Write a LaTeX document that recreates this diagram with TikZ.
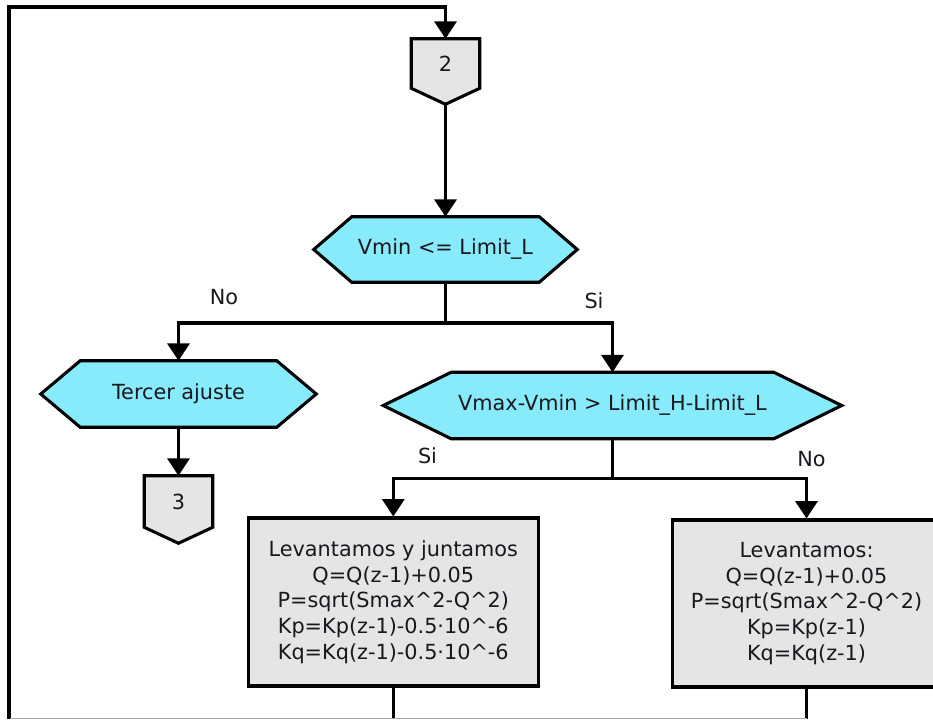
\documentclass[tikz,border=0pt]{standalone}
\usepackage{fontspec}
\setmainfont{DejaVu Sans}
\usetikzlibrary{arrows.meta,calc,backgrounds}
\definecolor{decfill}{HTML}{88EBFB}
\definecolor{procfill}{HTML}{E5E5E5}
\definecolor{inkcol}{HTML}{18181E}

% hexagonal decision outline around a node (#2 = slant run in px)
\newcommand\hexoutline[2]{%
  \path[outline, fill=decfill] (#1.west) -- ($(#1.north west)+(#2,0)$)
    -- ($(#1.north east)+(-#2,0)$) -- (#1.east)
    -- ($(#1.south east)+(-#2,0)$) -- ($(#1.south west)+(#2,0)$) -- cycle;}
% off-page connector: box with a point below it (#2 = depth of the point in px)
\newcommand\offpageoutline[2]{%
  \path[outline, fill=procfill] (#1.north west) -- (#1.north east)
    -- (#1.south east) -- ($(#1.south)+(0,#2)$) -- (#1.south west) -- cycle;}

\begin{document}
\begin{tikzpicture}[x=0.75pt,y=-0.75pt,
  outline/.style={draw=black, line width=2.3pt, line join=miter},
  wire/.style={draw=black, line width=2.3pt},
  every node/.style={font=\fontsize{15.6}{19.3}\selectfont, text=inkcol},
  flow/.style={wire, -{Triangle[width=16.5pt,length=13pt]}},
  hexbox/.style={inner sep=0pt, align=center},
  pagebox/.style={inner sep=0pt, minimum width=51pt},
  procbox/.style={outline, fill=procfill, inner sep=0pt, align=center},
  lbl/.style={inner sep=0pt}
]
\useasboundingbox (0,0) rectangle (933,719);

% off-page connectors
\node[pagebox, minimum height=36.75pt] (c2) at (445.5,63.5) {2};
\node[pagebox, minimum height=38.25pt] (c3) at (178.5,501.5) {3};
\coordinate (c2tip) at ($(c2.south)+(0,16)$);

% decisions
\node[hexbox, minimum width=197.25pt, minimum height=48.75pt] (h1) at (445.5,249.5) {Vmin <= Limit\_L};
\node[hexbox, minimum width=206.25pt, minimum height=49.5pt] (h3) at (178.5,394) {Tercer ajuste};
\node[hexbox, minimum width=343.5pt, minimum height=49.5pt] (h2) at (612.5,405.5) {Vmax-Vmin > Limit\_H-Limit\_L};

% process boxes
\node[procbox, minimum width=217.5pt, minimum height=126pt] (b1) at (393.3,602) {Levantamos y juntamos\\Q=Q(z-1)+0.05\\P=sqrt(Smax\textasciicircum 2-Q\textasciicircum 2)\\Kp=Kp(z-1)-0.5·10\textasciicircum -6\\Kq=Kq(z-1)-0.5·10\textasciicircum -6};
\node[procbox, minimum width=201pt, minimum height=125.25pt] (b2) at (806.5,603.5) {Levantamos:\\Q=Q(z-1)+0.05\\P=sqrt(Smax\textasciicircum 2-Q\textasciicircum 2)\\Kp=Kp(z-1)\\Kq=Kq(z-1)};

% branch labels
\node[lbl] (no1) at (224,297) {No};
\node[lbl] (si1) at (594,300.5) {Si};
\node[lbl] (si2) at (427.5,456) {Si};
\node[lbl] (no2) at (811.5,459.5) {No};

\begin{scope}[on background layer]
  \offpageoutline{c2}{16}
  \offpageoutline{c3}{16}
  \hexoutline{h1}{38}
  \hexoutline{h3}{39.5}
  \hexoutline{h2}{68}
\end{scope}

% connectors
\coordinate (lt) at (9,7);
\coordinate (lb) at (9,719);
\coordinate (j1) at (445.5,323);
\coordinate (j2) at (612.5,478.3);
\coordinate (e1) at (393.3,719);
\coordinate (e2) at (806.5,719);

\draw[flow] (lb) -- (lt) -| (c2.north);
\draw[flow] (c2tip) -- (h1.north);
\draw[wire] (h1.south) -- (j1);
\draw[flow] (j1) -| (h3.north);
\draw[flow] (j1) -| (h2.north);
\draw[flow] (h3.south) -- (c3.north);
\draw[wire] (h2.south) -- (j2);
\draw[flow] (j2) -| (b1.north);
\draw[flow] (j2) -| (b2.north);
\draw[wire] (b1.south) -- (e1);
\draw[wire] (b2.south) -- (e2);

% thin lower edge line
\draw[line width=0.75pt, black!35] (10,718.3) -- (806.5,718.3);
\end{tikzpicture}
\end{document}
